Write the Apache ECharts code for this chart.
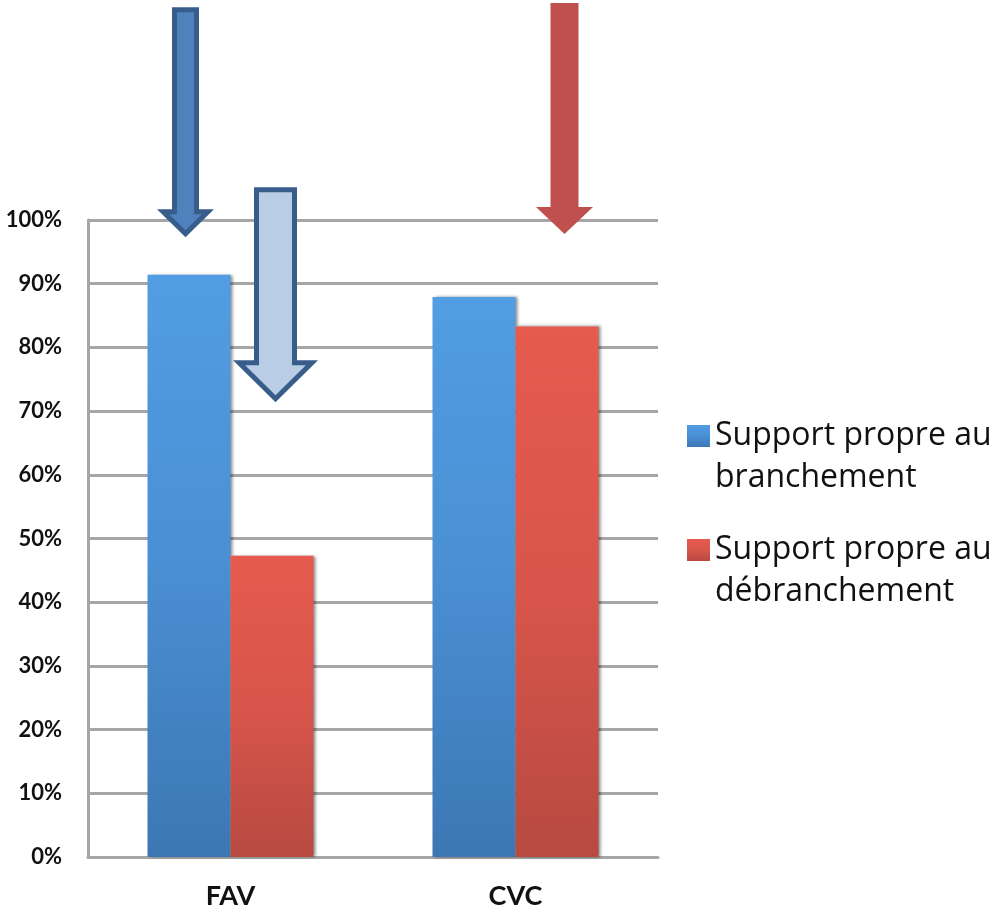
<!DOCTYPE html>
<html>
<head>
<meta charset="utf-8">
<script src="https://cdn.jsdelivr.net/npm/echarts@6/dist/echarts.min.js"></script>
<style>
  html, body { margin: 0; padding: 0; background: #ffffff; }
  #chart { width: 998px; height: 918px; }
</style>
</head>
<body>
<div id="chart"></div>
<script>
// ---- data ----
const categories = ['FAV', 'CVC'];
const seriesNames = ['Support propre au branchement', 'Support propre au débranchement'];
const branchement = [91.4, 87.9];
const debranchement = [47.3, 83.3];
const yTicks = { min: 0, max: 100, interval: 10 };
// arrow annotations: [category, value at arrow tip]
const arrowDarkBlue = ['FAV', 97.3];
const arrowLightBlue = ['FAV', 71.4];
const arrowRed = ['CVC', 97.8];

const chart = echarts.init(document.getElementById('chart'), null, { renderer: 'canvas' });

const blueGrad = new echarts.graphic.LinearGradient(0, 0, 0, 1, [
  { offset: 0, color: '#529de3' },
  { offset: 0.5, color: '#4a8fd3' },
  { offset: 1, color: '#3c77b3' }
]);
const redGrad = new echarts.graphic.LinearGradient(0, 0, 0, 1, [
  { offset: 0, color: '#e65a4f' },
  { offset: 0.5, color: '#d8554b' },
  { offset: 1, color: '#b74a41' }
]);

// Build a down-arrow shape (outer, and optional inner inset to fake a border)
function arrowMarks(coord, dx, W, H, S, Hh, fill, border, bw) {
  const p = (x, y) => x.toFixed(2) + ',' + y.toFixed(2);
  const outer = 'path://M' + p((W - S) / 2, 0) + ' L' + p((W + S) / 2, 0) + ' L' + p((W + S) / 2, H - Hh) +
    ' L' + p(W, H - Hh) + ' L' + p(W / 2, H) + ' L' + p(0, H - Hh) + ' L' + p((W - S) / 2, H - Hh) + ' Z';
  const marks = [];
  if (!bw) {
    marks.push({
      coord: coord, symbol: outer, symbolSize: [W, H], symbolKeepAspect: false,
      symbolOffset: [dx, -H / 2], itemStyle: { color: fill }
    });
    return marks;
  }
  marks.push({
    coord: coord, symbol: outer, symbolSize: [W, H], symbolKeepAspect: false,
    symbolOffset: [dx, -H / 2], itemStyle: { color: border }
  });
  const k = 2 * Hh / W;
  const r = Math.sqrt(1 + k * k);
  const xw = bw * (1 + r) / k;
  const tipY = H - bw * r;
  const inner = 'path://M' + p((W - S) / 2 + bw, bw) + ' L' + p((W + S) / 2 - bw, bw) + ' L' + p((W + S) / 2 - bw, H - Hh + bw) +
    ' L' + p(W - xw, H - Hh + bw) + ' L' + p(W / 2, tipY) + ' L' + p(xw, H - Hh + bw) + ' L' + p((W - S) / 2 + bw, H - Hh + bw) + ' Z';
  const iw = W - 2 * xw;
  const ih = tipY - bw;
  marks.push({
    coord: coord, symbol: inner, symbolSize: [iw, ih], symbolKeepAspect: false,
    symbolOffset: [dx, -(bw * r) - ih / 2], itemStyle: { color: fill }
  });
  return marks;
}

const fontFam = 'Lato, "Open Sans", sans-serif';

function legendCfg(name, top) {
  return {
    data: [name],
    left: 687,
    top: top,
    orient: 'vertical',
    padding: 0,
    itemWidth: 23,
    itemHeight: 22,
    icon: 'rect',
    selectedMode: false,
    formatter: function (n) {
      const i = n.lastIndexOf(' au ');
      return '\n' + n.slice(0, i + 3) + '\n' + n.slice(i + 4);
    },
    textStyle: {
      fontFamily: '"Open Sans", Lato, sans-serif',
      fontSize: 32,
      color: '#111',
      lineHeight: 42
    }
  };
}

const barShadow = {
  shadowColor: 'rgba(0,0,0,0.45)',
  shadowBlur: 3,
  shadowOffsetX: 2,
  shadowOffsetY: 0
};

const option = {
  backgroundColor: '#ffffff',
  animation: false,
  grid: { left: 88, right: 340, top: 220, bottom: 61 },
  legend: [legendCfg(seriesNames[0], 373), legendCfg(seriesNames[1], 487)],
  xAxis: {
    type: 'category',
    data: categories,
    axisLine: { show: true, lineStyle: { color: '#a6a6a6', width: 3 } },
    axisTick: { show: false },
    axisLabel: {
      margin: 26,
      fontFamily: fontFam,
      fontWeight: 'bold',
      fontSize: 27,
      color: '#111'
    }
  },
  yAxis: {
    type: 'value',
    min: yTicks.min,
    max: yTicks.max,
    interval: yTicks.interval,
    axisLine: { show: true, lineStyle: { color: '#a6a6a6', width: 3 } },
    axisTick: { show: false },
    splitLine: { show: true, lineStyle: { color: '#a6a6a6', width: 3 } },
    axisLabel: {
      margin: 26,
      formatter: '{value}%',
      fontFamily: fontFam,
      fontWeight: 'bold',
      fontSize: 22,
      color: '#111'
    }
  },
  series: [
    {
      name: seriesNames[0],
      type: 'bar',
      barWidth: 83,
      barGap: '0%',
      data: branchement,
      itemStyle: Object.assign({ color: blueGrad }, barShadow),
      markPoint: {
        silent: true,
        label: { show: false },
        itemStyle: { shadowBlur: 0, shadowOffsetX: 0, borderWidth: 0 },
        data: arrowMarks(arrowDarkBlue, -3.5, 57, 230, 27, 28, '#4f81bd', '#385d8a', 5)
      }
    },
    {
      name: seriesNames[1],
      type: 'bar',
      barWidth: 83,
      barGap: '0%',
      data: debranchement,
      itemStyle: Object.assign({ color: redGrad }, barShadow),
      markPoint: {
        silent: true,
        label: { show: false },
        itemStyle: { shadowBlur: 0, shadowOffsetX: 0, borderWidth: 0 },
        data: arrowMarks(arrowLightBlue, 3.5, 85, 215, 43, 42, '#b9cde5', '#385d8a', 5)
          .concat(arrowMarks(arrowRed, 7.5, 57, 231, 28, 27, '#c0504d', null, 0))
      }
    }
  ]
};

chart.setOption(option);
</script>
</body>
</html>
